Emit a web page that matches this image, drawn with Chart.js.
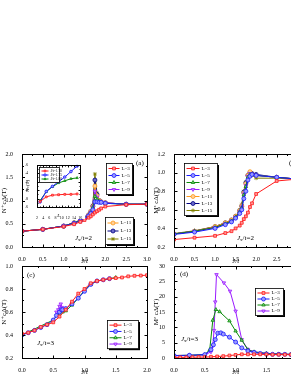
<!DOCTYPE html>
<html>
<head>
<meta charset="utf-8">
<script src="https://cdn.jsdelivr.net/npm/chart.js@4/dist/chart.umd.min.js"></script>
<style>
  html, body { margin: 0; padding: 0; background: #fff; }
  body { width: 291px; height: 376px; overflow: hidden; position: relative; }
  canvas { position: absolute; }
</style>
</head>
<body>
<canvas id="pa" width="152" height="125" style="left:0px;top:140px"></canvas>
<canvas id="pb" width="150" height="125" style="left:152px;top:140px"></canvas>
<canvas id="pc" width="152" height="120" style="left:0px;top:256px"></canvas>
<canvas id="pd" width="150" height="120" style="left:152px;top:256px"></canvas>
<canvas id="inset" width="60" height="59" style="left:25px;top:160px"></canvas>
<script>
// panel (a): N(T) vs J/t, Jx/t=2
const jtA = [0, 0.5, 1.0, 1.25, 1.4, 1.5, 1.6, 1.65, 1.7, 1.75, 1.8, 1.85, 1.9, 2.0, 2.5, 3.0];
const nA3  = [0.34, 0.38, 0.44, 0.49, 0.54, 0.58, 0.63, 0.66, 0.70, 0.74, 0.77, 0.80, 0.83, 0.87, 0.91, 0.92];
const nA5  = [0.34, 0.38, 0.45, 0.51, 0.56, 0.61, 0.67, 0.72, 0.80, 0.97, 0.97, 0.96, 0.96, 0.94, 0.92, 0.92];
const nA7  = [0.34, 0.38, 0.45, 0.52, 0.57, 0.62, 0.68, 0.74, 0.85, 1.09, 1.03, 0.98, 0.96, 0.94, 0.92, 0.92];
const nA9  = [0.34, 0.38, 0.45, 0.52, 0.57, 0.62, 0.68, 0.75, 0.86, 1.20, 1.07, 0.99, 0.97, 0.95, 0.92, 0.92];
const nA11 = [0.34, 0.38, 0.45, 0.52, 0.57, 0.62, 0.69, 0.76, 0.87, 1.31, 1.10, 1.00, 0.97, 0.95, 0.92, 0.92];
const nA13 = [0.34, 0.38, 0.45, 0.52, 0.58, 0.63, 0.69, 0.76, 0.88, 1.44, 1.13, 1.00, 0.97, 0.95, 0.92, 0.92];
const nA15 = [0.34, 0.38, 0.45, 0.52, 0.58, 0.63, 0.70, 0.77, 0.90, 1.57, 1.16, 1.01, 0.97, 0.95, 0.92, 0.92];

// panel (b): M(T) vs J/t, Jx/t=2
const jtB = [0, 0.5, 1.0, 1.25, 1.4, 1.5, 1.6, 1.65, 1.7, 1.75, 1.8, 1.85, 1.9, 2.0, 2.5, 3.0];
const mB3  = [0.28, 0.30, 0.32, 0.35, 0.37, 0.40, 0.43, 0.46, 0.50, 0.53, 0.57, 0.63, 0.67, 0.77, 0.91, 0.93];
const mB5  = [0.335, 0.36, 0.40, 0.44, 0.47, 0.51, 0.56, 0.60, 0.72, 0.80, 0.92, 0.96, 0.98, 0.97, 0.95, 0.93];
const mB7  = [0.34, 0.37, 0.41, 0.45, 0.48, 0.52, 0.58, 0.62, 0.76, 0.85, 0.95, 0.98, 0.98, 0.97, 0.95, 0.93];
const mB9  = [0.34, 0.37, 0.41, 0.45, 0.48, 0.52, 0.58, 0.63, 0.77, 0.86, 0.96, 0.99, 0.98, 0.97, 0.95, 0.93];
const mB11 = [0.34, 0.37, 0.42, 0.46, 0.49, 0.53, 0.59, 0.64, 0.78, 0.88, 0.97, 1.01, 0.98, 0.97, 0.95, 0.93];
const mB13 = [0.34, 0.37, 0.42, 0.46, 0.49, 0.53, 0.59, 0.64, 0.79, 0.89, 0.97, 1.00, 0.99, 0.98, 0.95, 0.93];
const mB15 = [0.345, 0.375, 0.42, 0.46, 0.49, 0.53, 0.60, 0.66, 0.80, 0.90, 0.97, 0.99, 0.97, 0.94, 0.94, 0.93];

// panel (c): N(T) vs J/t, Jx/t=3
const jtC3 = [0, 0.1, 0.2, 0.3, 0.4, 0.5, 0.6, 0.7, 0.8, 0.9, 1.0, 1.1, 1.2, 1.3, 1.4, 1.5, 1.6, 1.7, 1.8, 1.9, 2.0];
const nC3  = [0.41, 0.42, 0.44, 0.47, 0.49, 0.51, 0.56, 0.62, 0.69, 0.76, 0.80, 0.85, 0.87, 0.88, 0.89, 0.895, 0.90, 0.91, 0.915, 0.917, 0.92];
const jtC5 = [0, 0.1, 0.2, 0.3, 0.4, 0.5, 0.55, 0.6, 0.63, 0.65, 0.7, 0.8, 0.9, 1.0, 1.1, 1.2, 1.3, 1.4];
const nC5  = [0.40, 0.42, 0.44, 0.465, 0.49, 0.53, 0.57, 0.60, 0.62, 0.62, 0.63, 0.67, 0.72, 0.78, 0.84, 0.87, 0.88, 0.89];
const jtC7 = [0, 0.5, 0.6, 0.65, 0.7, 0.8, 0.9, 1.0, 1.1, 1.2, 1.5];
const nC7  = [0.40, 0.53, 0.59, 0.60, 0.61, 0.66, 0.72, 0.79, 0.84, 0.87, 0.90];
const jtC9 = [0.55, 0.58, 0.6, 0.62, 0.64, 0.66, 0.7];
const nC9  = [0.60, 0.62, 0.65, 0.67, 0.64, 0.62, 0.62];

// panel (d): M(T) vs J/t, Jx/t=3
const jtD3 = [0, 0.1, 0.2, 0.3, 0.4, 0.5, 0.6, 0.7, 0.8, 0.9, 1.0, 1.1, 1.2, 1.3, 1.4, 1.5, 1.6, 1.7, 1.8, 1.9];
const mD3  = [0.2, 0.2, 0.2, 0.25, 0.3, 0.3, 0.4, 0.5, 0.6, 0.8, 1.0, 1.2, 1.2, 1.2, 1.2, 1.15, 1.1, 1.1, 1.1, 1.1];
const jtD5 = [0, 0.25, 0.5, 0.6, 0.64, 0.67, 0.71, 0.76, 0.8, 0.9, 1.0, 1.1, 1.2, 1.3, 1.4, 1.5, 1.6, 1.7, 1.8, 1.9];
const mD5  = [0.8, 0.9, 1.1, 2.7, 4.3, 6.0, 8.1, 8.2, 7.8, 6.8, 5.2, 3.3, 2.3, 1.8, 1.5, 1.3, 1.2, 1.2, 1.2, 1.1];
const jtD7 = [0, 0.25, 0.5, 0.58, 0.63, 0.68, 0.74, 0.9, 1.0, 1.1, 1.2, 1.3, 1.5, 1.7, 1.9];
const mD7  = [0.8, 0.9, 1.1, 2.7, 12.3, 15.8, 15.1, 12.1, 8.8, 5.8, 2.7, 2.0, 1.5, 1.3, 1.2];
const jtD9 = [0, 0.25, 0.5, 0.6, 0.63, 0.65, 0.67, 0.69, 0.81, 0.91, 1.0, 1.1, 1.2, 1.3, 1.5, 1.7, 1.9];
const mD9  = [0.7, 0.8, 1.0, 2.0, 4.0, 9.0, 18.3, 27.2, 24.5, 21.8, 15.3, 6.0, 2.8, 2.0, 1.5, 1.3, 1.2];

// inset: N(T) vs L
const sizes = [3, 5, 7, 9, 11, 13, 15];
const insetLabels = ['J/t=1.70', 'J/t=1.75', 'J/t=1.80'];
const ncRed   = [0.73, 0.84, 0.88, 0.89, 0.90, 0.90, 0.91];
const ncBlue  = [0.72, 0.97, 1.09, 1.20, 1.31, 1.44, 1.57];
const ncGreen = [0.75, 0.96, 1.08, 1.17, 1.22, 1.27, 1.29];

const serif = '"Liberation Serif", "DejaVu Serif", serif';

const looks = {
  3:  { c: '#ff1a1a', f: '#ff9a9a', p: 'rect' },
  5:  { c: '#1a1aff', f: '#9a9aff', p: 'circle' },
  7:  { c: '#0a8a0a', f: '#7acc7a', p: 'triangle' },
  9:  { c: '#9a1aff', f: '#d09aff', p: 'triangle', r: 180 },
  11: { c: '#ff9a1a', f: '#ffd09a', p: 'circle' },
  13: { c: '#000080', f: '#6a6acc', p: 'circle' },
  15: { c: '#808000', f: '#c0c060', p: 'star' }
};

const series = (label, xs, ys, lk, radius) => ({
  label,
  data: xs.map((x, i) => ({ x, y: ys[i] })),
  borderColor: lk.c,
  backgroundColor: lk.f,
  pointBackgroundColor: lk.f,
  pointBorderColor: lk.c,
  pointStyle: lk.p,
  pointRotation: lk.r || 0,
  pointRadius: radius || 2,
  pointBorderWidth: 0.8,
  borderWidth: 1,
  showLine: true,
  tension: 0
});

// frame with inward ticks, boxed legends and notes
const decor = {
  id: 'decor',
  beforeDraw(chart) {
    const o = chart.options.plugins.decor;
    if (o.bg) {
      chart.ctx.save();
      chart.ctx.fillStyle = '#fff';
      chart.ctx.fillRect(0, 0, chart.width, chart.height);
      chart.ctx.restore();
    }
  },
  afterDraw(chart) {
    const o = chart.options.plugins.decor;
    const ctx = chart.ctx, a = chart.chartArea;
    const xs = chart.scales.x, ys = chart.scales.y;
    const L = Math.round(a.left) + 0.5, R = Math.round(a.right) + 0.5;
    const T = Math.round(a.top) + 0.5, B = Math.round(a.bottom) + 0.5;
    const tl = o.tick || 3;
    ctx.save();
    ctx.strokeStyle = '#000';
    ctx.lineWidth = 1;
    ctx.strokeRect(L, T, R - L, B - T);
    ctx.beginPath();
    const xt = xs.ticks.map(t => xs.getPixelForValue(t.value));
    xt.forEach((p, i) => {
      const q = Math.round(p) + 0.5;
      ctx.moveTo(q, B); ctx.lineTo(q, B - tl);
      ctx.moveTo(q, T); ctx.lineTo(q, T + tl);
      if (i > 0) {
        const m = Math.round((p + xt[i - 1]) / 2) + 0.5;
        ctx.moveTo(m, B); ctx.lineTo(m, B - tl / 2);
        ctx.moveTo(m, T); ctx.lineTo(m, T + tl / 2);
      }
    });
    const yt = ys.ticks.map(t => ys.getPixelForValue(t.value));
    yt.forEach((p, i) => {
      const q = Math.round(p) + 0.5;
      ctx.moveTo(L, q); ctx.lineTo(L + tl, q);
      ctx.moveTo(R, q); ctx.lineTo(R - tl, q);
      if (i > 0) {
        const m = Math.round((p + yt[i - 1]) / 2) + 0.5;
        ctx.moveTo(L, m); ctx.lineTo(L + tl / 2, m);
        ctx.moveTo(R, m); ctx.lineTo(R - tl / 2, m);
      }
    });
    ctx.stroke();

    (o.legends || []).forEach(lg => {
      const h = lg.items.length * lg.row + 3;
      const x0 = Math.round(a.left + lg.dx) + 0.5, y0 = Math.round(a.top + lg.dy) + 0.5;
      if (lg.shadow !== false) {
        ctx.fillStyle = '#000';
        ctx.fillRect(x0 + 1.5, y0 + 1.5, lg.w, h);
      }
      ctx.fillStyle = '#fff';
      ctx.fillRect(x0, y0, lg.w, h);
      ctx.lineWidth = 0.8;
      ctx.strokeRect(x0, y0, lg.w, h);
      lg.items.forEach((idx, k) => {
        const ds = chart.data.datasets[idx];
        const cy = y0 + 1.5 + lg.row * (k + 0.5);
        ctx.strokeStyle = ds.borderColor;
        ctx.lineWidth = 1;
        ctx.beginPath();
        ctx.moveTo(x0 + 2, cy); ctx.lineTo(x0 + 2 + lg.line, cy);
        ctx.stroke();
        ctx.fillStyle = ds.pointBackgroundColor;
        ctx.lineWidth = 0.8;
        Chart.helpers.drawPoint(ctx, {
          pointStyle: ds.pointStyle, rotation: ds.pointRotation,
          radius: lg.rad || 2, borderWidth: 0.8
        }, x0 + 2 + lg.line / 2, cy);
        ctx.fillStyle = '#000';
        ctx.font = (lg.font || 5) + 'px ' + serif;
        ctx.textBaseline = 'middle';
        ctx.textAlign = 'left';
        ctx.fillText(ds.label, x0 + 4 + lg.line, cy);
      });
      ctx.strokeStyle = '#000';
    });

    (o.notes || []).forEach(n => {
      let x = a.left + n.dx;
      const y = a.top + n.dy;
      ctx.fillStyle = '#000';
      ctx.textAlign = 'left';
      ctx.textBaseline = 'middle';
      n.parts.forEach(pt => {
        ctx.font = (pt.it ? 'italic ' : '') + pt.size + 'px ' + serif;
        ctx.fillText(pt.t, x, y + (pt.dy || 0));
        x += ctx.measureText(pt.t).width;
      });
    });
    ctx.restore();
  }
};
Chart.register(decor);

const jxNote = (dx, dy, v) => ({
  dx, dy, parts: [
    { t: 'J', it: true, size: 7 },
    { t: 'x', it: false, size: 5, dy: 2 },
    { t: '/t=' + v, it: false, size: 7 }
  ]
});
const tag = (dx, dy, s) => ({ dx, dy, parts: [{ t: s, size: 7 }] });

const makeOptions = (cfg) => ({
  responsive: false,
  animation: false,
  events: [],
  layout: { padding: { top: cfg.padTop, right: cfg.padRight, left: 0, bottom: 0 } },
  plugins: {
    legend: { display: false },
    tooltip: { enabled: false },
    decor: { legends: cfg.legends, notes: cfg.notes, bg: cfg.bg, tick: cfg.tick }
  },
  scales: {
    x: {
      type: 'linear', min: cfg.xMin, max: cfg.xMax,
      grid: { display: false }, border: { display: false },
      ticks: {
        stepSize: cfg.xStep, color: '#000', padding: 1, maxRotation: 0, autoSkip: false,
        font: { family: serif, size: cfg.tickFont || 6 },
        callback: cfg.xFmt
      },
      title: {
        display: true, text: cfg.xTitle, color: '#000', padding: { top: 0, bottom: 0 },
        font: { family: serif, size: cfg.titleFont || 7, style: 'italic' }
      },
      afterFit: s => { s.height = cfg.xH; }
    },
    y: {
      type: 'linear', min: cfg.yMin, max: cfg.yMax,
      grid: { display: false }, border: { display: false },
      ticks: {
        stepSize: cfg.yStep, color: '#000', padding: 1, autoSkip: false,
        font: { family: serif, size: cfg.tickFont || 6 },
        callback: cfg.yFmt
      },
      title: {
        display: true, text: cfg.yTitle, color: '#000', padding: { top: 0, bottom: 1 },
        font: { family: serif, size: cfg.titleFont || 7 }
      },
      afterFit: s => { s.width = cfg.yW; }
    }
  }
});

const f1 = v => Number(v).toFixed(1);
const f0 = v => String(Math.round(v));

new Chart(document.getElementById('pa'), {
  type: 'scatter',
  data: {
    datasets: [
      series('L=3', jtA, nA3, looks[3]),
      series('L=5', jtA, nA5, looks[5]),
      series('L=7', jtA, nA7, looks[7]),
      series('L=9', jtA, nA9, looks[9]),
      series('L=11', jtA, nA11, looks[11]),
      series('L=13', jtA, nA13, looks[13]),
      series('L=15', jtA, nA15, looks[15])
    ]
  },
  options: makeOptions({
    padTop: 14, padRight: 5, xH: 18, yW: 22,
    xMin: 0, xMax: 3, xStep: 0.5, yMin: 0, yMax: 2, yStep: 0.5,
    xFmt: f1, yFmt: f1, xTitle: 'J/t', yTitle: 'N⁺cΔ(T)',
    legends: [
      { dx: 84, dy: 9, w: 26, row: 7, line: 11, items: [0, 1, 2, 3] },
      { dx: 83, dy: 63, w: 28, row: 8, line: 11, items: [4, 5, 6] }
    ],
    notes: [tag(114, 9, '(a)'), jxNote(53, 84, '2')]
  })
});

new Chart(document.getElementById('pb'), {
  type: 'scatter',
  data: {
    datasets: [
      series('L=3', jtB, mB3, looks[3]),
      series('L=5', jtB, mB5, looks[5]),
      series('L=7', jtB, mB7, looks[7]),
      series('L=9', jtB, mB9, looks[9]),
      series('L=11', jtB, mB11, looks[11]),
      series('L=13', jtB, mB13, looks[13]),
      series('L=15', jtB, mB15, looks[15])
    ]
  },
  options: makeOptions({
    padTop: 14, padRight: 4, xH: 18, yW: 22,
    xMin: 0, xMax: 3, xStep: 0.5, yMin: 0.2, yMax: 1.2, yStep: 0.2,
    xFmt: f1, yFmt: f1, xTitle: 'J/t', yTitle: 'Mᶻ cΔ(T)',
    legends: [
      { dx: 10, dy: 9, w: 33, row: 7, line: 13, items: [0, 1, 2, 3, 4, 5, 6] }
    ],
    notes: [tag(115, 9, '(b)'), jxNote(63, 84, '2')]
  })
});

new Chart(document.getElementById('pc'), {
  type: 'scatter',
  data: {
    datasets: [
      series('L=3', jtC3, nC3, looks[3]),
      series('L=5', jtC5, nC5, looks[5]),
      series('L=7', jtC7, nC7, looks[7]),
      series('L=9', jtC9, nC9, looks[9])
    ]
  },
  options: makeOptions({
    padTop: 10, padRight: 5, xH: 18, yW: 22,
    xMin: 0, xMax: 2, xStep: 0.5, yMin: 0.2, yMax: 1.0, yStep: 0.2,
    xFmt: f1, yFmt: f1, xTitle: 'J/t', yTitle: 'N⁺cΔ(T)',
    legends: [
      { dx: 85, dy: 54, w: 31, row: 6.3, line: 12, items: [0, 1, 2, 3] }
    ],
    notes: [tag(5, 9, '(c)'), jxNote(15, 77, '3')]
  })
});

new Chart(document.getElementById('pd'), {
  type: 'scatter',
  data: {
    datasets: [
      series('L=3', jtD3, mD3, looks[3]),
      series('L=5', jtD5, mD5, looks[5]),
      series('L=7', jtD7, mD7, looks[7]),
      series('L=9', jtD9, mD9, looks[9])
    ]
  },
  options: makeOptions({
    padTop: 10, padRight: 4, xH: 18, yW: 22,
    xMin: 0, xMax: 2, xStep: 0.5, yMin: 0, yMax: 30, yStep: 5,
    xFmt: f1, yFmt: f0, xTitle: 'J/t', yTitle: 'Mᶻ cΔ(T)',
    legends: [
      { dx: 81, dy: 22, w: 28, row: 6, line: 12, items: [0, 1, 2, 3] }
    ],
    notes: [tag(6, 8, '(d)'), jxNote(7, 73, '3')]
  })
});

new Chart(document.getElementById('inset'), {
  type: 'scatter',
  data: {
    datasets: [
      series(insetLabels[0], sizes, ncRed, looks[3], 1.3),
      series(insetLabels[1], sizes, ncBlue, looks[5], 1.3),
      series(insetLabels[2], sizes, ncGreen, looks[7], 1.3)
    ]
  },
  options: makeOptions({
    padTop: 4, padRight: 3, xH: 12, yW: 12, bg: true, tick: 2,
    tickFont: 4, titleFont: 5,
    xMin: 2, xMax: 16, xStep: 2, yMin: 0.6, yMax: 1.6, yStep: 0.2,
    xFmt: f0, yFmt: f1, xTitle: 'L', yTitle: 'Nc(T)',
    legends: [
      { dx: 2, dy: 2, w: 20, row: 4, line: 7, rad: 1.2, font: 3.5, shadow: false, items: [0, 1, 2] }
    ],
    notes: []
  })
});
</script>
</body>
</html>
